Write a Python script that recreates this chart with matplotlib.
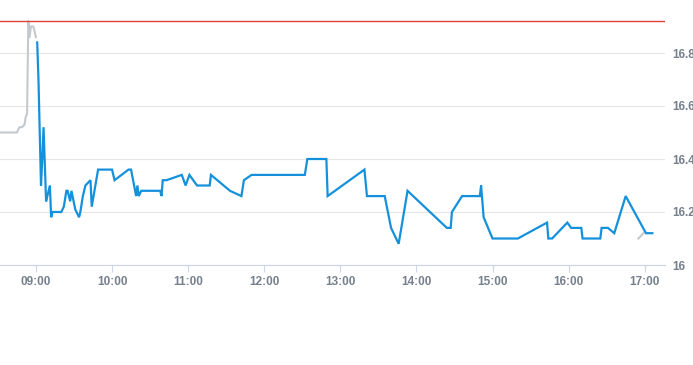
import matplotlib
matplotlib.use("Agg")
import matplotlib.pyplot as plt
import matplotlib.dates as mdates
from datetime import datetime

DAY = "2024-01-02 "

pre_times = ["08:31", "08:45", "08:47", "08:49", "08:51", "08:52", "08:53",
             "08:54", "08:55", "08:56", "08:58", "09:00"]
pre_values = [16.50, 16.50, 16.52, 16.52, 16.53, 16.56, 16.57,
              16.92, 16.86, 16.90, 16.90, 16.86]

main_times = ["09:01", "09:02", "09:04", "09:05", "09:06", "09:08", "09:09", "09:11",
              "09:12", "09:13", "09:20", "09:22", "09:24", "09:25", "09:27", "09:28",
              "09:31", "09:34", "09:35", "09:37", "09:39", "09:43", "09:44", "09:49",
              "10:00", "10:02", "10:13", "10:15", "10:19", "10:20", "10:21", "10:23",
              "10:38", "10:39", "10:40", "10:43", "10:55", "10:58", "11:01", "11:07",
              "11:17", "11:18", "11:33", "11:42", "11:44", "11:50", "12:32", "12:34",
              "12:49", "12:50", "13:19", "13:21", "13:35", "13:40", "13:46", "13:53",
              "14:24", "14:27", "14:28", "14:36", "14:50", "14:51", "14:53", "15:00",
              "15:20", "15:43", "15:44", "15:47", "15:59", "16:02", "16:10", "16:11",
              "16:25", "16:26", "16:31", "16:36", "16:45", "17:01", "17:06"]
main_values = [16.84, 16.70, 16.30, 16.40, 16.52, 16.24, 16.26, 16.30,
               16.18, 16.20, 16.20, 16.22, 16.28, 16.28, 16.24, 16.28,
               16.21, 16.18, 16.20, 16.26, 16.30, 16.32, 16.22, 16.36,
               16.36, 16.32, 16.36, 16.36, 16.26, 16.30, 16.26, 16.28,
               16.28, 16.26, 16.32, 16.32, 16.34, 16.30, 16.34, 16.30,
               16.30, 16.34, 16.28, 16.26, 16.32, 16.34, 16.34, 16.40,
               16.40, 16.26, 16.36, 16.26, 16.26, 16.14, 16.08, 16.28,
               16.14, 16.14, 16.20, 16.26, 16.26, 16.30, 16.18, 16.10,
               16.10, 16.16, 16.10, 16.10, 16.16, 16.14, 16.14, 16.10,
               16.10, 16.14, 16.14, 16.12, 16.26, 16.12, 16.12]

post_times = ["16:55", "16:59"]
post_values = [16.10, 16.12]

ref_value = 16.92
y_ticks = [16.0, 16.2, 16.4, 16.6, 16.8]
y_tick_labels = ["16", "16.2", "16.4", "16.6", "16.8"]
x_ticks = ["09:00", "10:00", "11:00", "12:00", "13:00", "14:00", "15:00", "16:00", "17:00"]
x_range = ["08:31:40", "17:16:00"]


def to_dt(s):
    fmt = "%Y-%m-%d %H:%M:%S" if s.count(":") == 2 else "%Y-%m-%d %H:%M"
    return datetime.strptime(DAY + s, fmt)


fig = plt.figure(figsize=(6.93, 3.65), dpi=100)
ax = fig.add_axes([0, 100 / 365, 665 / 693, 265 / 365])

label_color = "#76818d"
ax.plot([to_dt(t) for t in pre_times], pre_values, color="#c3c9ce", lw=1.5, zorder=2)
ax.plot([to_dt(t) for t in post_times], post_values, color="#c3c9ce", lw=1.5, zorder=2)
ax.plot([to_dt(t) for t in main_times], main_values, color="#1591dc", lw=1.6, zorder=3,
        solid_joinstyle="miter")
ax.axhline(ref_value, color="#e0403a", lw=1.0, zorder=4)

ax.set_xlim(to_dt(x_range[0]), to_dt(x_range[1]))
ax.set_ylim(16.0, 17.0)

ax.set_yticks(y_ticks)
ax.set_yticklabels(y_tick_labels)
ax.yaxis.tick_right()
ax.tick_params(axis="y", length=0, pad=5.5, labelsize=8.5, labelcolor=label_color)
ax.grid(axis="y", color="#e6e6e6", lw=0.8)
ax.set_axisbelow(True)

ax.set_xticks([to_dt(t) for t in x_ticks])
ax.xaxis.set_major_formatter(mdates.DateFormatter("%H:%M"))
ax.tick_params(axis="x", length=5, width=0.8, color="#ccd6eb", pad=3,
               labelsize=8.5, labelcolor=label_color)

for s in ["top", "left", "right"]:
    ax.spines[s].set_visible(False)
ax.spines["bottom"].set_color("#ccd6eb")
ax.spines["bottom"].set_linewidth(0.8)

for lbl in ax.get_xticklabels() + ax.get_yticklabels():
    lbl.set_fontfamily("Liberation Sans")
    lbl.set_fontweight("bold")

fig.savefig("out.png", dpi=100)
